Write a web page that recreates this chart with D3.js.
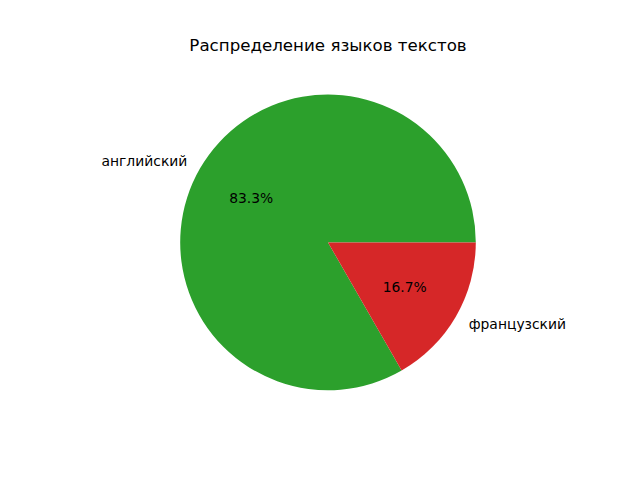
<!DOCTYPE html>
<html>
<head>
<meta charset="utf-8">
<script src="https://cdn.jsdelivr.net/npm/d3@7"></script>
<style>
  body { margin: 0; background: #fff; }
  text { font-family: "DejaVu Sans", sans-serif; }
</style>
</head>
<body>
<div id="chart"></div>
<script>
// data
const languages = ["английский", "французский"];
const shares = [83.3, 16.7];
const sliceColors = ["#2ca02c", "#d62728"];
const chartTitle = "Распределение языков текстов";

const width = 640, height = 480;
const cx = 328, cy = 242.4, radius = 147.8;

let svg = d3.select("#chart")
    .append("svg")
    .attr("width", width)
    .attr("height", height);

svg.append("rect")
    .attr("width", width)
    .attr("height", height)
    .attr("fill", "#fff");

svg.append("text")
    .attr("x", cx)
    .attr("y", 50.5)
    .attr("text-anchor", "middle")
    .attr("font-size", "16.67px")
    .attr("fill", "#000")
    .text(chartTitle);

// matplotlib style: start at 3 o'clock, go counterclockwise
let pie = d3.pie()
    .sort(null)
    .startAngle(Math.PI / 2)
    .endAngle(Math.PI / 2 - 2 * Math.PI);

let arcs = pie(shares);
let total = d3.sum(shares);

let arc = d3.arc().innerRadius(0).outerRadius(radius);

let g = svg.append("g").attr("transform", `translate(${cx},${cy})`);

g.selectAll("path")
    .data(arcs)
    .enter().append("path")
    .attr("d", arc)
    .attr("fill", (d, i) => sliceColors[i]);

function pos(d, r) {
    let a = (d.startAngle + d.endAngle) / 2;
    return [r * Math.sin(a), -r * Math.cos(a)];
}

// category labels
g.selectAll(".lbl")
    .data(arcs)
    .enter().append("text")
    .attr("class", "lbl")
    .attr("x", d => pos(d, radius * 1.1)[0])
    .attr("y", d => pos(d, radius * 1.1)[1])
    .attr("dy", "0.35em")
    .attr("text-anchor", d => pos(d, 1)[0] < 0 ? "end" : "start")
    .attr("font-size", "13.89px")
    .text((d, i) => languages[i]);

// percent labels
g.selectAll(".pct")
    .data(arcs)
    .enter().append("text")
    .attr("class", "pct")
    .attr("x", d => pos(d, radius * 0.6)[0])
    .attr("y", d => pos(d, radius * 0.6)[1])
    .attr("dy", "0.35em")
    .attr("text-anchor", "middle")
    .attr("font-size", "13.89px")
    .text(d => (d.value / total * 100).toFixed(1) + "%");
</script>
</body>
</html>
